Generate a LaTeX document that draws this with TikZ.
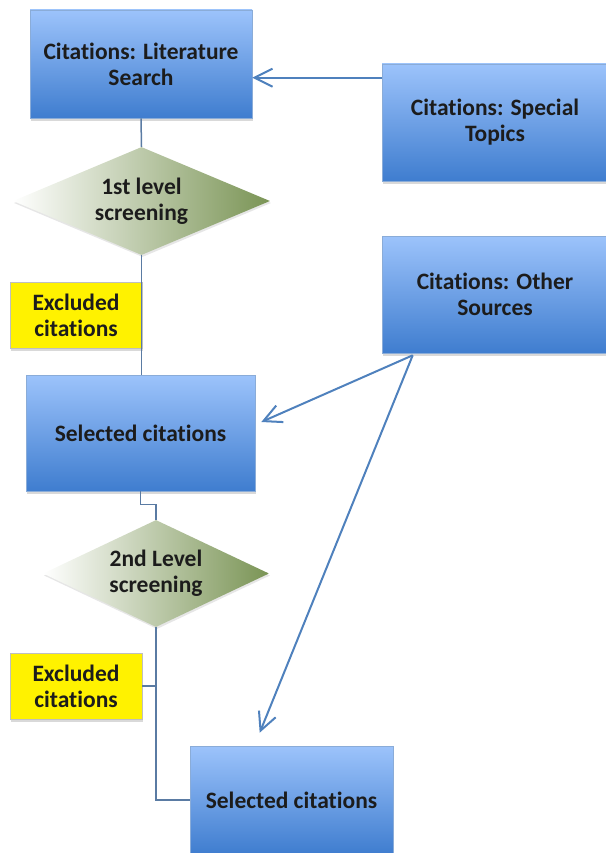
\documentclass[tikz,border=0pt]{standalone}
\usepackage{fontspec}
\setmainfont[Ligatures=NoCommon]{Carlito}
\usepackage{xcolor}
\definecolor{BoxTop}{HTML}{9CC3FB}
\definecolor{BoxBottom}{HTML}{3F7DCF}
\definecolor{BoxEdge}{HTML}{8AACD8}
\definecolor{Olive}{HTML}{7A9455}
\definecolor{LinkBlue}{HTML}{4F81BD}
\definecolor{ElbowBlue}{HTML}{5A7BA3}
\definecolor{InkGray}{HTML}{1C1C1C}
\usepackage{tikz}
\usetikzlibrary{calc, arrows.meta, positioning, shapes.geometric, shadows}

\begin{document}
\begin{tikzpicture}[x=1pt, y=-1pt,
  every node/.style={font=\fontsize{23.5}{26}\selectfont\bfseries, text=InkGray, align=center},
  citebox/.style={rectangle, draw=BoxEdge, line width=0.6pt, inner sep=0pt,
    top color=BoxTop, bottom color=BoxBottom,
    drop shadow={opacity=0.3, shadow xshift=1pt, shadow yshift=-3pt}},
  screen/.style={diamond, aspect=2.4, inner sep=0pt, left color=white, right color=Olive,
    drop shadow={opacity=0.2, shadow xshift=1pt, shadow yshift=-2pt}},
  excl/.style={rectangle, draw=gray!50, fill=yellow, inner sep=0pt,
    minimum width=132pt, minimum height=66pt,
    drop shadow={opacity=0.3, shadow xshift=1pt, shadow yshift=-3pt}},
  elbow/.style={draw=ElbowBlue, line width=1.5pt},
  feed/.style={draw=LinkBlue, line width=2pt, -{Straight Barb[length=18pt,width=18pt]}}]
  \useasboundingbox (0,0) rectangle (605,853);

  \node[citebox, minimum width=222pt, minimum height=108pt] (A) at (141,64) {Citations: Literature\\Search};
  \node[citebox, minimum width=226pt, minimum height=117pt] (B) at (495,122.5) {Citations: Special\\Topics};
  \node[citebox, minimum width=226pt, minimum height=117pt] (C) at (495,294.5) {Citations: Other\\Sources};
  \node[screen, minimum width=257pt, minimum height=108pt] (D1) at (141.5,201) {1st level\\screening};
  \node[excl] (E1) at (76,315) {Excluded\\citations};
  \node[citebox, minimum width=229pt, minimum height=116pt] (S1) at (140.5,433) {Selected citations};
  \node[screen, minimum width=226pt, minimum height=107pt] (D2) at (156,573.5) {2nd Level\\screening};
  \node[excl] (E2) at (76,686) {Excluded\\citations};
  \node[citebox, minimum width=203pt, minimum height=108pt] (S2) at (291.5,800) {Selected citations};

  \coordinate (bin) at ($(B.north west)+(0,14)$);
  \coordinate (cfoot) at ($(C.south west)+(31,2)$);
  \coordinate (s1in) at ($(S1.east)+(6,-11)$);
  \coordinate (s2in) at ($(S2.north west)+(70,-13)$);

  \draw[elbow] (A.south) -- (D1.north);
  \draw[elbow] (D1.south) -- (D1.south |- S1.north);
  \draw[elbow] (S1.south) -- ++(0,13) -| (D2.north);
  \draw[elbow] (D2.south) |- (S2.west);
  \draw[elbow] (E2.east) -- (E2.east -| D2.south);

  \draw[feed] (bin) -- (A.east |- bin);
  \draw[feed] (cfoot) -- (s1in);
  \draw[feed] (cfoot) -- (s2in);
\end{tikzpicture}
\end{document}
